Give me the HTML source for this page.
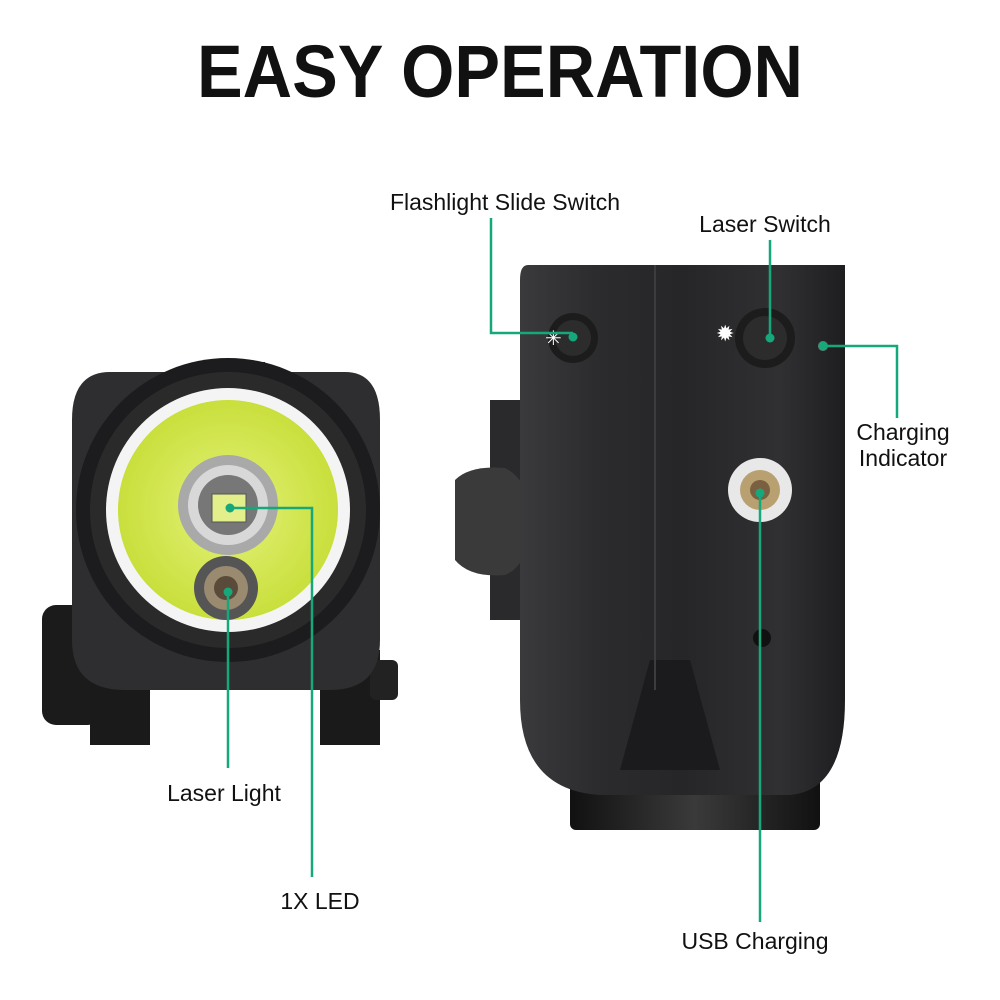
<!DOCTYPE html>
<html><head><meta charset="utf-8"><style>
html,body{margin:0;padding:0;background:#fff;}
svg{display:block;}
text{font-family:"Liberation Sans",sans-serif;fill:#111;}
</style></head><body>
<svg width="1000" height="1000" viewBox="0 0 1000 1000" xmlns="http://www.w3.org/2000/svg">
<defs>
<linearGradient id="body" x1="0" x2="1" y1="0" y2="0">
<stop offset="0" stop-color="#3a3a3c"/><stop offset="0.25" stop-color="#2b2b2d"/><stop offset="0.5" stop-color="#262628"/><stop offset="0.8" stop-color="#303032"/><stop offset="1" stop-color="#1e1e20"/></linearGradient>
<radialGradient id="lens" cx="0.5" cy="0.5" r="0.5"><stop offset="0" stop-color="#e4f27a"/><stop offset="1" stop-color="#c9df3c"/></radialGradient>
<linearGradient id="foot" x1="0" x2="1"><stop offset="0" stop-color="#111"/><stop offset="0.5" stop-color="#3a3a3a"/><stop offset="1" stop-color="#111"/></linearGradient>
</defs>
<text x="197" y="97" font-size="74" font-weight="bold" textLength="606" lengthAdjust="spacingAndGlyphs">EASY OPERATION</text>

<!-- Left device -->
<rect x="195" y="362" width="70" height="14" fill="#222"/>
<rect x="42" y="605" width="60" height="120" rx="14" fill="#1b1b1b"/>
<rect x="90" y="650" width="60" height="95" fill="#1a1a1a"/>
<rect x="320" y="650" width="60" height="95" fill="#1a1a1a"/>
<rect x="370" y="660" width="28" height="40" rx="6" fill="#222"/>
<path d="M110 372 H345 Q380 372 380 420 V640 Q380 690 330 690 H125 Q72 690 72 640 V420 Q72 372 110 372Z" fill="#2e2e30"/>
<circle cx="228" cy="510" r="152" fill="#1c1c1e"/>
<circle cx="228" cy="510" r="138" fill="#2a2a2a"/>
<circle cx="228" cy="510" r="122" fill="#f4f4f4"/>
<circle cx="228" cy="510" r="110" fill="url(#lens)"/>
<circle cx="228" cy="505" r="50" fill="#a9a9a9"/>
<circle cx="228" cy="505" r="40" fill="#d8d8d8"/>
<circle cx="228" cy="505" r="30" fill="#777"/>
<rect x="212" y="494" width="34" height="28" fill="#e3ef8a" stroke="#555"/>
<circle cx="226" cy="588" r="32" fill="#555"/>
<circle cx="226" cy="588" r="22" fill="#9a8a70"/>
<circle cx="226" cy="588" r="12" fill="#5a4a3a"/>

<!-- Right device -->
<path d="M490 400 H525 V620 H490 Z" fill="#2a2a2c"/>
<path d="M455 480 Q470 465 505 468 Q530 480 530 520 Q530 565 505 575 Q470 578 455 560Z" fill="#3a3a3a"/>
<rect x="570" y="770" width="250" height="60" rx="6" fill="url(#foot)"/>
<path d="M528 265 H845 V700 Q845 790 790 795 H600 Q520 790 520 700 V280 Q520 265 528 265Z" fill="url(#body)"/>
<path d="M620 770 L650 660 L690 660 L720 770Z" fill="#1b1b1d"/>
<line x1="655" y1="265" x2="655" y2="690" stroke="#3c3c3e" stroke-width="2"/>
<circle cx="573" cy="338" r="25" fill="#1c1c1c"/>
<circle cx="573" cy="338" r="18" fill="#2c2c2c"/>
<circle cx="765" cy="338" r="30" fill="#1c1c1c"/>
<circle cx="765" cy="338" r="22" fill="#2c2c2c"/>
<text x="716" y="341" font-size="22" style="fill:#fff">✹</text>
<text x="545" y="345" font-size="20" style="fill:#fff">✳</text>
<circle cx="823" cy="346" r="5" fill="#777"/>
<circle cx="760" cy="490" r="32" fill="#e8e8e8"/>
<circle cx="760" cy="490" r="20" fill="#b8a070"/>
<circle cx="760" cy="490" r="10" fill="#7a6040"/>
<circle cx="762" cy="638" r="9" fill="#111"/>

<!-- Leaders -->
<g stroke="#16a77b" stroke-width="2.5" fill="none">
<polyline points="491,218 491,333 573,333"/>
<line x1="770" y1="240" x2="770" y2="338"/>
<polyline points="823,346 897,346 897,418"/>
<line x1="760" y1="493" x2="760" y2="922"/>
<line x1="228" y1="592" x2="228" y2="768"/>
<polyline points="230,508 312,508 312,877"/>
</g>
<g fill="#16a77b">
<circle cx="573" cy="337" r="4.5"/><circle cx="770" cy="338" r="4.5"/><circle cx="823" cy="346" r="4.5"/>
<circle cx="760" cy="493" r="4.5"/><circle cx="228" cy="592" r="4.5"/><circle cx="230" cy="508" r="4.5"/>
</g>
<g font-size="23">
<text x="505" y="210" text-anchor="middle">Flashlight Slide Switch</text>
<text x="765" y="232" text-anchor="middle">Laser Switch</text>
<text x="903" y="440" text-anchor="middle">Charging</text>
<text x="903" y="466" text-anchor="middle">Indicator</text>
<text x="224" y="801" text-anchor="middle">Laser Light</text>
<text x="320" y="909" text-anchor="middle">1X LED</text>
<text x="755" y="949" text-anchor="middle">USB Charging</text>
</g>
</svg>
</body></html>
